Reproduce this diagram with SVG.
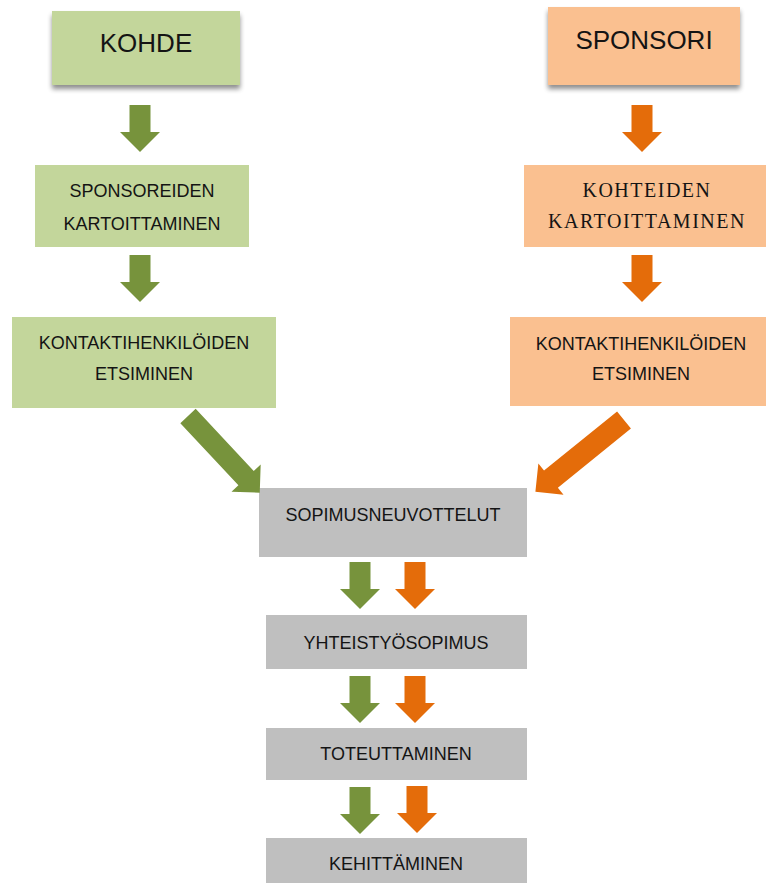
<svg xmlns="http://www.w3.org/2000/svg" width="767" height="883" viewBox="0 0 767 883">
<style>
.g{fill:#c3d69b}
.o{fill:#fac090}
.y{fill:#bfbfbf}
.ga{fill:#77933c}
.oa{fill:#e46c0a}
text{font-family:"Liberation Sans",Arial,sans-serif;fill:#141414;text-anchor:middle}
.big{font-size:26px}
.sm{font-size:18px}
.serif{font-family:"Liberation Serif","Times New Roman",serif;font-size:20px;letter-spacing:1.5px}
</style>
<defs>
<filter id="sh" x="-10%" y="-10%" width="120%" height="140%">
<feGaussianBlur in="SourceAlpha" stdDeviation="2.5"/>
<feOffset dx="0" dy="4" result="b"/>
<feComponentTransfer><feFuncA type="linear" slope="0.45"/></feComponentTransfer>
<feMerge><feMergeNode/><feMergeNode in="SourceGraphic"/></feMerge>
</filter>
<path id="down" d="M-10.5,0 H10.5 V27 H20 L0,47 L-20,27 H-10.5 Z"/>
</defs>
<rect width="767" height="883" fill="#ffffff"/>
<g id="kohde"><rect class="g" x="52" y="11" width="188" height="74" filter="url(#sh)"/><text class="big" x="146" y="52">KOHDE</text></g>
<g id="sponsori"><rect class="o" x="548" y="7" width="192" height="78" filter="url(#sh)"/><text class="big" x="644" y="49">SPONSORI</text></g>
<g id="sponsoreiden"><rect class="g" x="35" y="165" width="214" height="82"/><text class="sm" x="142" y="197">SPONSOREIDEN</text><text class="sm" x="142" y="230">KARTOITTAMINEN</text></g>
<g id="kohteiden"><rect class="o" x="524" y="165" width="242" height="82"/><text class="serif" x="647" y="197">KOHTEIDEN</text><text class="serif" x="647" y="228">KARTOITTAMINEN</text></g>
<g id="kontakti-g"><rect class="g" x="12" y="317" width="264" height="91"/><text class="sm" x="144" y="349">KONTAKTIHENKILÖIDEN</text><text class="sm" x="144" y="380">ETSIMINEN</text></g>
<g id="kontakti-o"><rect class="o" x="510" y="317" width="256" height="89"/><text class="sm" x="641" y="350">KONTAKTIHENKILÖIDEN</text><text class="sm" x="641" y="380">ETSIMINEN</text></g>
<g id="sopimusneuvottelut"><rect class="y" x="259" y="488" width="268" height="69"/><text class="sm" x="393" y="521">SOPIMUSNEUVOTTELUT</text></g>
<g id="yhteistyosopimus"><rect class="y" x="266" y="615" width="261" height="54"/><text class="sm" x="396" y="649">YHTEISTYÖSOPIMUS</text></g>
<g id="toteuttaminen"><rect class="y" x="266" y="728" width="261" height="52"/><text class="sm" x="396" y="760">TOTEUTTAMINEN</text></g>
<g id="kehittaminen"><rect class="y" x="266" y="838" width="261" height="50"/><text class="sm" x="396" y="870">KEHITTÄMINEN</text></g>
<g id="connectors">
<use href="#down" class="ga" x="140" y="105"/>
<use href="#down" class="oa" x="642" y="105"/>
<use href="#down" class="ga" x="140" y="255"/>
<use href="#down" class="oa" x="642" y="255"/>
<path class="ga" transform="translate(188,416) rotate(46.9)" d="M0,-10.5 H85 V-20 L105,0 L85,20 V10.5 H0 Z"/>
<path class="oa" transform="translate(624,420) rotate(141)" d="M0,-11 H94 V-20 L114,0 L94,20 V11 H0 Z"/>
<use href="#down" class="ga" x="360" y="562"/>
<use href="#down" class="oa" x="415" y="562"/>
<use href="#down" class="ga" x="360" y="676"/>
<use href="#down" class="oa" x="415" y="676"/>
<use href="#down" class="ga" x="360" y="787"/>
<use href="#down" class="oa" x="417" y="786"/>
</g>
</svg>
